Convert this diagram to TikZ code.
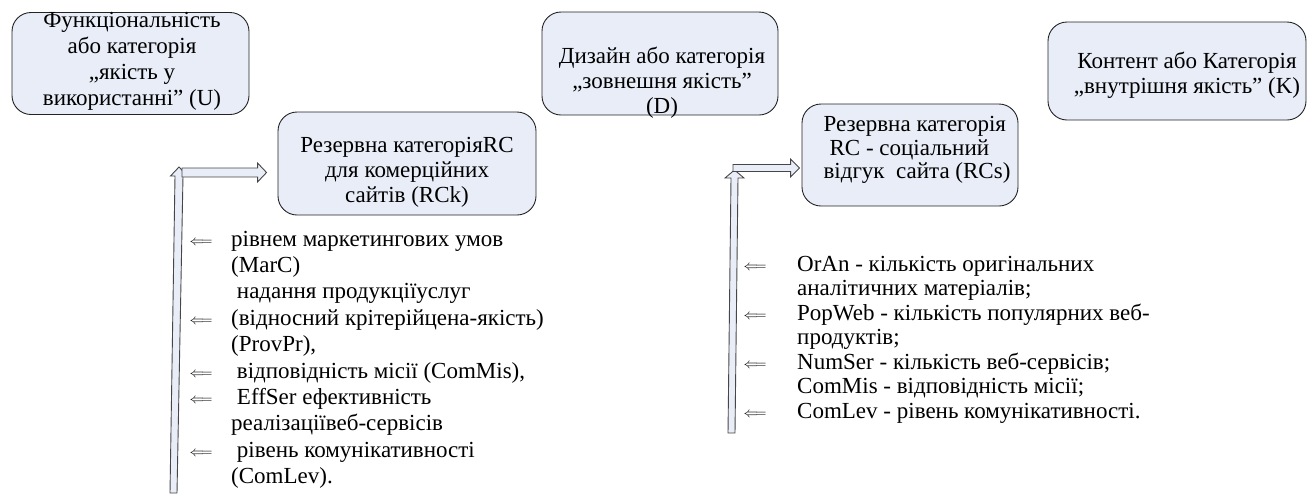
\documentclass[tikz,border=0pt]{standalone}
\usepackage{fontspec}
\setmainfont{Liberation Serif}
\usetikzlibrary{calc}

\definecolor{boxfill}{RGB}{232,237,247}
\definecolor{edge}{RGB}{35,35,35}
\definecolor{arrowedge}{RGB}{70,70,70}

\tikzset{
  catbox/.style={draw=edge, fill=boxfill, line width=0.9pt, rounded corners=19pt,
                 inner sep=0pt},
  boxtext/.style={align=center, inner sep=0pt, font=\fontsize{23}{25}\selectfont},
  listtext/.style={anchor=base west, inner sep=0pt, font=\fontsize{23}{25}\selectfont},
  marker/.style={anchor=base, inner sep=0pt, yshift=1pt, font=\fontsize{14.4}{14.4}\selectfont},
  blockarrow/.style={draw=arrowedge, fill=boxfill, line width=0.9pt, line join=miter}
}

\begin{document}
\begin{tikzpicture}[x=1pt, y=-1pt]
\useasboundingbox (0,0) rectangle (1314,499);

% category boxes
\node[catbox, minimum width=237pt, minimum height=102pt] (u) at (130.5,63.5) {};
\node[boxtext, font=\fontsize{23}{26}\selectfont] (utext) at (132,61)
  {Функціональність\\або категорія\\„якість у\\використанні” (U)};

\node[catbox, minimum width=236pt, minimum height=103pt] (d) at (660,63.5) {};
\node[boxtext] (dtext) at (662,82.5)
  {Дизайн або категорія\\„зовнешня якість”\\(D)};

\node[catbox, minimum width=258pt, minimum height=98pt] (k) at (1177,71) {};
\node[boxtext] (ktext) at (1187,75)
  {Контент або Категорія\\„внутрішня якість” (K)};

% reserve categories
\node[catbox, minimum width=258pt, minimum height=103pt] (rck) at (407,163.5) {};
\node[boxtext] (rcktext) at (407,172)
  {Резервна категоріяRC\\для комерційних\\сайтів (RCk)};

\node[catbox, minimum width=216pt, minimum height=102pt] (rcs) at (910,155) {};
\node[boxtext, align=left, font=\fontsize{23}{23.5}\selectfont] (rcstext) at (917,150)
  {Резервна категорія\\\hspace*{6pt}RC - соціальний\\відгук\ \ сайта (RCs)};

% left block arrows
\coordinate (lfoot) at (173.5,493);
\coordinate (ltop) at (179,167);
\coordinate (lstart) at (182,172.5);
\coordinate (ltip) at ($(rck.west |- lstart)+(-11,0)$);
\draw[blockarrow] ($(lfoot)+(-3.5,0)$) -- ($(ltop)+(-4,9)$) -- ($(ltop)+(-8.5,9)$)
  -- (ltop) -- ($(ltop)+(8.5,9)$) -- ($(ltop)+(4,9)$) -- ($(lfoot)+(3.5,0)$) -- cycle;
\draw[blockarrow] ($(lstart)+(0,-4.5)$) -- ($(ltip)+(-9,-4.5)$) -- ($(ltip)+(-9,-9.5)$)
  -- (ltip) -- ($(ltip)+(-9,9.5)$) -- ($(ltip)+(-9,4.5)$) -- ($(lstart)+(0,4.5)$) -- cycle;

% right block arrows
\coordinate (rfoot) at (731.5,433);
\coordinate (rtop) at (734.5,170);
\coordinate (rstart) at (733,168);
\coordinate (rtip) at ($(rcs.west |- rstart)+(-2,0)$);
\draw[blockarrow] ($(rfoot)+(-3.5,0)$) -- ($(rtop)+(-3.5,8)$) -- ($(rtop)+(-9.5,8)$)
  -- (rtop) -- ($(rtop)+(9.5,8)$) -- ($(rtop)+(3.5,8)$) -- ($(rfoot)+(3.5,0)$) -- cycle;
\draw[blockarrow] ($(rstart)+(0,-3.5)$) -- ($(rtip)+(-9,-3.5)$) -- ($(rtip)+(-9,-9)$)
  -- (rtip) -- ($(rtip)+(-9,9)$) -- ($(rtip)+(-9,3.5)$) -- ($(rstart)+(0,3.5)$) -- cycle;

% left list of criteria
\node[listtext] (l0) at (231,246.0) {рівнем маркетингових умов};
\node[listtext] (l1) at (231,272.4) {(MarC)};
\node[listtext] (l2) at (231,298.8) {\ надання продукціїуслуг};
\node[listtext] (l3) at (231,325.2) {(відносний крітерійцена-якість)};
\node[listtext] (l4) at (231,351.6) {(ProvPr),};
\node[listtext] (l5) at (231,378.0) {\ відповідність місії (ComMis),};
\node[listtext] (l6) at (231,404.4) {\ EffSer ефективність};
\node[listtext] (l7) at (231,430.8) {реалізаціївеб-сервісів};
\node[listtext] (l8) at (231,457.2) {\ рівень комунікативності};
\node[listtext] (l9) at (231,483.6) {(ComLev).};

\node[marker] (la0) at (201,246.0) {$\Longleftarrow$};
\node[marker] (la3) at (201,325.2) {$\Longleftarrow$};
\node[marker] (la5) at (201,378.0) {$\Longleftarrow$};
\node[marker] (la6) at (201,404.4) {$\Longleftarrow$};
\node[marker] (la8) at (201,457.2) {$\Longleftarrow$};

% right list of criteria
\node[listtext] (r0) at (797,271.0) {OrAn - кількість оригінальних};
\node[listtext] (r1) at (797,295.5) {аналітичних матеріалів;};
\node[listtext] (r2) at (797,320.0) {PopWeb - кількість популярних веб-};
\node[listtext] (r3) at (797,344.5) {продуктів;};
\node[listtext] (r4) at (797,369.0) {NumSer - кількість веб-сервісів;};
\node[listtext] (r5) at (797,393.5) {ComMis - відповідність місії;};
\node[listtext] (r6) at (797,418.0) {ComLev - рівень комунікативності.};

\node[marker] (ra0) at (755,271.0) {$\Longleftarrow$};
\node[marker] (ra2) at (755,320.0) {$\Longleftarrow$};
\node[marker] (ra4) at (755,369.0) {$\Longleftarrow$};
\node[marker] (ra6) at (755,418.0) {$\Longleftarrow$};
\end{tikzpicture}
\end{document}
